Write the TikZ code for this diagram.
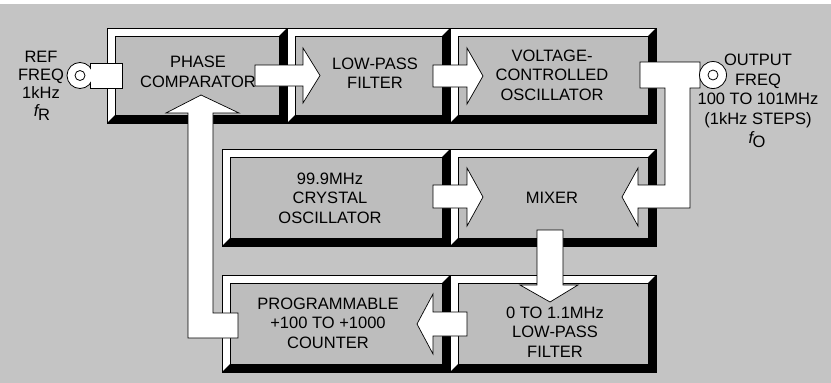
\documentclass[tikz,border=0pt]{standalone}
\usepackage{fontspec}
\setmainfont{Liberation Sans}
\definecolor{bg}{gray}{0.77}
\definecolor{face}{gray}{0.74}
\tikzset{
  bevbox/.style={draw=black, line width=0.7pt, fill=white, rectangle, inner sep=0pt, outer sep=0pt,
    path picture={
      \fill[black] (path picture bounding box.north east) -- (path picture bounding box.south east)
        -- (path picture bounding box.south west) -- ([shift={(8pt,8pt)}]path picture bounding box.south west)
        -- ([shift={(-8pt,8pt)}]path picture bounding box.south east)
        -- ([shift={(-8pt,-8pt)}]path picture bounding box.north east) -- cycle;
      \filldraw[fill=face, draw=black, line width=0.5pt]
        ([shift={(8pt,-8pt)}]path picture bounding box.north west) rectangle
        ([shift={(-8pt,8pt)}]path picture bounding box.south east);
    }},
  lbl/.style={font=\fontsize{16.5}{19.5}\selectfont, align=center, inner sep=0pt},
  blk/.style={fill=white, draw=black, line width=0.7pt, line join=miter},
  jack/.style={circle, fill=white, draw=black, line width=0.8pt, inner sep=0pt},
}
\begin{document}
\begin{tikzpicture}[x=1pt,y=-1pt]
\useasboundingbox (0,0) rectangle (831,383);
\fill[white] (0,0) rectangle (831,383);
\fill[bg] (0,4) rectangle (831,383);

% boxes
\node[bevbox, minimum width=180pt, minimum height=95pt] (pc) at (197,75.5) {};
\node[bevbox, minimum width=163pt, minimum height=95pt] (lpf) at (368.5,75.5) {};
\node[bevbox, minimum width=206pt, minimum height=95pt] (vco) at (553,75.5) {};
\node[bevbox, minimum width=228pt, minimum height=97pt] (xo) at (336,197.5) {};
\node[bevbox, minimum width=206pt, minimum height=97pt] (mix) at (553,197.5) {};
\node[bevbox, minimum width=228pt, minimum height=97pt] (cnt) at (336,323.5) {};
\node[bevbox, minimum width=206pt, minimum height=97pt] (lpf2) at (553,323.5) {};

% labels
\node[lbl] (pcT) at (198,72) {PHASE\\COMPARATOR};
\node[lbl] (lpfT) at (375,73) {LOW-PASS\\FILTER};
\node[lbl] (vcoT) at (552,75) {VOLTAGE-\\CONTROLLED\\OSCILLATOR};
\node[lbl] (xoT) at (330,198) {99.9MHz\\CRYSTAL\\OSCILLATOR};
\node[lbl] (mixT) at (552,198) {MIXER};
\node[lbl] (cntT) at (328,323) {PROGRAMMABLE\\+100 TO +1000\\COUNTER};
\node[lbl] (lpf2T) at (555,332) {0 TO 1.1MHz\\LOW-PASS\\FILTER};

% block arrows
\draw[blk] (255,65) -- (303,65) -- (303,48) -- (320,75.5) -- (303,103) -- (303,86) -- (255,86) -- cycle;
\draw[blk] (433,65) -- (467,65) -- (467,48) -- (483,76) -- (467,104) -- (467,87) -- (433,87) -- cycle;
\draw[blk] (640,62) -- (700,62) -- (700,88) -- (690,88) -- (690,208) -- (638,208) -- (638,226)
  -- (622,197) -- (638,168) -- (638,185) -- (665,185) -- (665,88) -- (640,88) -- cycle;
\draw[blk] (433,185) -- (467,185) -- (467,168) -- (483,197) -- (467,226) -- (467,208) -- (433,208) -- cycle;
\draw[blk] (537,230) -- (563,230) -- (563,285) -- (578,285) -- (550,302) -- (520,285) -- (537,285) -- cycle;
\draw[blk] (467,312) -- (433,312) -- (433,294) -- (417,324) -- (433,354) -- (433,336) -- (467,336) -- cycle;
\draw[blk] (238,313) -- (213,313) -- (213,113) -- (239,113) -- (201,95) -- (166,113) -- (188,113)
  -- (188,338) -- (238,338) -- cycle;

% input jack
\draw[blk] (90,63) rectangle (122,88);
\node[jack, minimum size=26pt] (inj) at (80,75.5) {};
\fill[white] (90.5,63.5) rectangle (95,87.5);
\node[jack, minimum size=10pt] (inj2) at (80,75.5) {};
% output jack
\node[jack, minimum size=27pt] (outj) at (713,75) {};
\node[jack, minimum size=10pt] (outj2) at (713,75) {};

% side labels
\node[lbl, font=\fontsize{16.5}{18}\selectfont] (refT) at (41,75) {REF\\FREQ\\1kHz};
\node[lbl] (fr) at (42,113) {{\itshape f}\kern-0.5pt\raisebox{-4pt}{R}};
\node[lbl] (outT) at (758,91) {OUTPUT\\FREQ\\100 TO 101MHz\\(1kHz STEPS)};
\node[lbl] (fo) at (757,140) {{\itshape f}\kern-0.5pt\raisebox{-4pt}{O}};
\end{tikzpicture}
\end{document}
